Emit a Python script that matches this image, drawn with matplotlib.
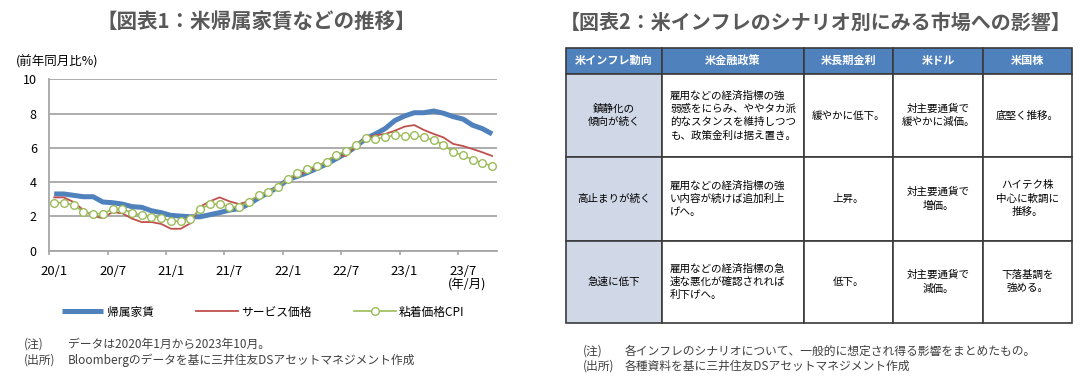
"""米帰属家賃の推移チャートと、米インフレのシナリオ別影響表を1枚に描く。"""

import matplotlib

matplotlib.use("Agg")
import matplotlib.pyplot as plt
import numpy as np
from matplotlib.patches import Rectangle

plt.rcParams["font.family"] = ["Noto Sans CJK JP", "DejaVu Sans"]

# ---- データ (2020年1月〜2023年10月, 前年同月比%) ----
rent = [3.31, 3.31, 3.23, 3.15, 3.15, 2.84, 2.80, 2.72, 2.57, 2.53, 2.33, 2.22,
        2.06, 2.02, 1.98, 1.98, 2.10, 2.22, 2.37, 2.45, 2.72, 3.07, 3.39, 3.70,
        4.15, 4.34, 4.55, 4.80, 5.06, 5.37, 5.68, 6.07, 6.54, 6.81, 7.12, 7.59,
        7.86, 8.05, 8.05, 8.15, 8.02, 7.82, 7.68, 7.32, 7.12, 6.81]
services = [3.11, 3.11, 2.84, 2.37, 2.02, 1.90, 2.26, 2.18, 1.87, 1.67, 1.67, 1.56,
            1.28, 1.28, 1.60, 2.57, 2.88, 3.11, 2.88, 2.72, 2.88, 3.19, 3.42, 3.77,
            4.16, 4.40, 4.61, 4.86, 5.25, 5.58, 5.53, 6.11, 6.61, 6.73, 6.81, 7.00,
            7.24, 7.33, 7.04, 6.81, 6.61, 6.23, 6.11, 5.93, 5.74, 5.53]
sticky = [2.80, 2.80, 2.65, 2.28, 2.16, 2.16, 2.43, 2.43, 2.22, 2.06, 1.98, 1.93,
          1.73, 1.73, 1.87, 2.41, 2.72, 2.72, 2.53, 2.57, 2.84, 3.25, 3.43, 3.73,
          4.20, 4.53, 4.79, 4.94, 5.19, 5.60, 5.80, 6.15, 6.56, 6.52, 6.61, 6.75,
          6.69, 6.73, 6.61, 6.46, 6.17, 5.76, 5.56, 5.31, 5.12, 4.94]
series_names = ["帰属家賃", "サービス価格", "粘着価格CPI"]
x_labels = ["20/1", "20/7", "21/1", "21/7", "22/1", "22/7", "23/1", "23/7"]
y_ticks = [0, 2, 4, 6, 8, 10]

# ---- 表 ----
table_header = ["米インフレ動向", "米金融政策", "米長期金利", "米ドル", "米国株"]
table_rows = [
    ["鎮静化の\n傾向が続く",
     "雇用などの経済指標の強\n弱感をにらみ、ややタカ派\n的なスタンスを維持しつつ\nも、政策金利は据え置き。",
     "緩やかに低下。", "対主要通貨で\n緩やかに減価。", "底堅く推移。"],
    ["高止まりが続く",
     "雇用などの経済指標の強\nい内容が続けば追加利上\nげへ。",
     "上昇。", "対主要通貨で\n増価。", "ハイテク株\n中心に軟調に\n推移。"],
    ["急速に低下",
     "雇用などの経済指標の急\n速な悪化が確認されれば\n利下げへ。",
     "低下。", "対主要通貨で\n減価。", "下落基調を\n強める。"],
]

BLUE = "#4F81BD"
RED = "#C0504D"
GREEN = "#9BBB59"
GRID = "#A6A6A6"
TITLE_INK = "#595959"
NOTE_INK = "#404040"

W, H = 1087, 381
fig = plt.figure(figsize=(W / 100, H / 100), dpi=100)

# 全体をピクセル座標で扱う下地
canvas = fig.add_axes([0, 0, 1, 1])
canvas.set_xlim(0, W)
canvas.set_ylim(H, 0)
canvas.axis("off")

# ---- 図表1 ----
ax = fig.add_axes([49.3 / W, 1 - 250.7 / H, 447.7 / W, 171.4 / H])
x = np.arange(len(rent))
ax.plot(x, rent, color=BLUE, lw=3.6, solid_capstyle="butt", label=series_names[0], zorder=3)
ax.plot(x, services, color=RED, lw=1.3, label=series_names[1], zorder=4)
ax.plot(x, sticky, color=GREEN, lw=1.2, marker="o", ms=5.5, mfc="white",
        mec=GREEN, mew=1.0, label=series_names[2], zorder=5)

ax.set_xlim(-0.5, len(rent) - 0.5)
ax.set_ylim(0, 10)
ax.set_yticks(y_ticks)
ax.set_yticklabels([str(v) for v in y_ticks], fontsize=9)
ax.tick_params(axis="y", length=0, pad=9)
ax.set_xticks(np.arange(len(x_labels)) * 6 - 0.5)
ax.set_xticklabels([])
ax.set_xticks(np.arange(len(x_labels)) * 6, minor=True)
ax.set_xticklabels(x_labels, minor=True, fontsize=9.5)
ax.tick_params(axis="x", which="major", length=3, color=GRID, width=1.2)
ax.tick_params(axis="x", which="minor", length=0, pad=10)
ax.grid(axis="y", color=GRID, lw=1.3)
ax.set_axisbelow(True)
for side in ["top", "right"]:
    ax.spines[side].set_visible(False)
for side in ["left", "bottom"]:
    ax.spines[side].set_color(GRID)
    ax.spines[side].set_linewidth(1.3)

fig.legend(loc="center left", bbox_to_anchor=(62 / W, 1 - 312 / H), ncol=3,
           frameon=False, fontsize=8.5, handlelength=3.5, handletextpad=0.3,
           columnspacing=3.6, borderpad=0, borderaxespad=0)

canvas.text(256, 21, "【図表1：米帰属家賃などの推移】", fontsize=14.8, fontweight="bold",
            color=TITLE_INK, ha="center", va="center")
canvas.text(16, 62, "(前年同月比%)", fontsize=9, ha="left", va="center")
canvas.text(486, 285, "(年/月)", fontsize=9, ha="right", va="center")
canvas.text(24, 344, "(注)", fontsize=8.5, color=NOTE_INK, va="center")
canvas.text(68, 344, "データは2020年1月から2023年10月。", fontsize=8.5, color=NOTE_INK, va="center")
canvas.text(24, 360, "(出所)", fontsize=8.5, color=NOTE_INK, va="center")
canvas.text(68, 360, "Bloombergのデータを基に三井住友DSアセットマネジメント作成", fontsize=8.5,
            color=NOTE_INK, va="center")

# ---- 図表2 ----
canvas.text(816, 22, "【図表2：米インフレのシナリオ別にみる市場への影響】", fontsize=14.4,
            fontweight="bold", color=TITLE_INK, ha="center", va="center")

col_x = [566, 662, 804, 893, 983, 1072]
row_y = [47.7, 74, 157, 240.5, 323]
EDGE = "#3A3A3A"

for c, head in enumerate(table_header):
    x0, x1 = col_x[c], col_x[c + 1]
    canvas.add_patch(Rectangle((x0, row_y[0]), x1 - x0, row_y[1] - row_y[0],
                               facecolor=BLUE, edgecolor=EDGE, lw=1.2))
    canvas.text((x0 + x1) / 2, (row_y[0] + row_y[1]) / 2, head, color="white",
                fontsize=8, fontweight="bold", ha="center", va="center")

for r, row in enumerate(table_rows):
    y0, y1 = row_y[r + 1], row_y[r + 2]
    for c, cell in enumerate(row):
        x0, x1 = col_x[c], col_x[c + 1]
        face = "#D0D8E8" if c == 0 else "white"
        canvas.add_patch(Rectangle((x0, y0), x1 - x0, y1 - y0,
                                   facecolor=face, edgecolor=EDGE, lw=1.2))
        if c == 1:
            canvas.text(x0 + 8, (y0 + y1) / 2, cell, fontsize=7.6, ha="left",
                        va="center", linespacing=1.4)
        else:
            canvas.text((x0 + x1) / 2, (y0 + y1) / 2, cell, fontsize=7.6,
                        ha="center", va="center", multialignment="center",
                        linespacing=1.4)

canvas.text(583, 351, "(注)", fontsize=8.5, color=NOTE_INK, va="center")
canvas.text(625, 351, "各インフレのシナリオについて、一般的に想定され得る影響をまとめたもの。",
            fontsize=8.5, color=NOTE_INK, va="center")
canvas.text(583, 366, "(出所)", fontsize=8.5, color=NOTE_INK, va="center")
canvas.text(625, 366, "各種資料を基に三井住友DSアセットマネジメント作成", fontsize=8.5,
            color=NOTE_INK, va="center")

fig.savefig("out.png", dpi=100, facecolor="white")
